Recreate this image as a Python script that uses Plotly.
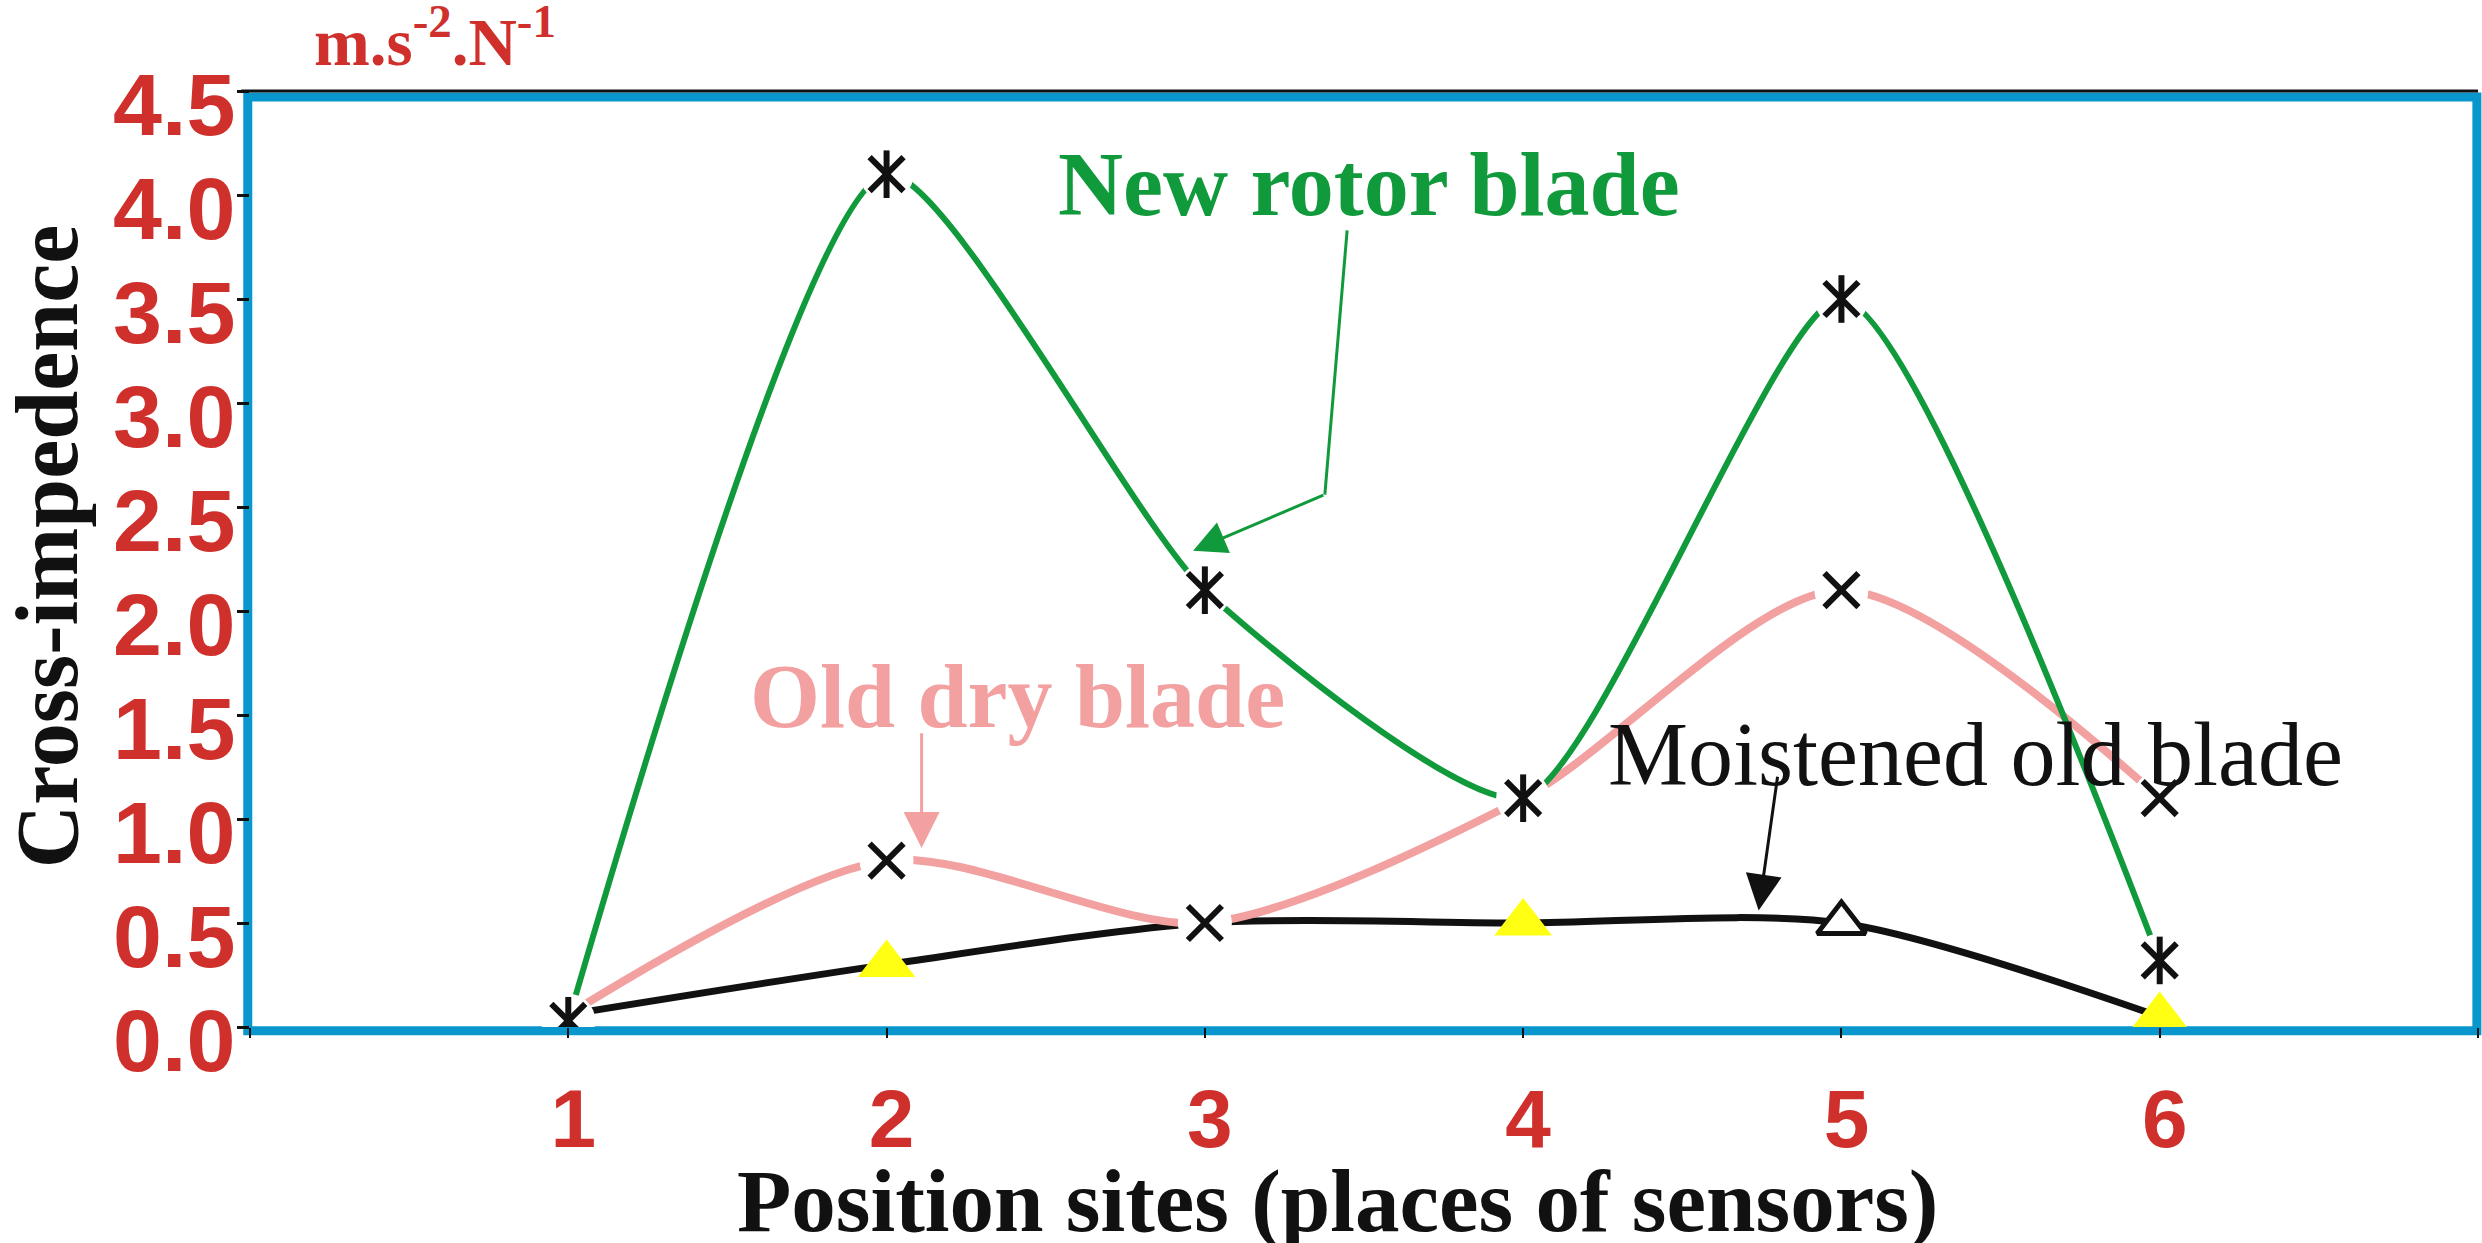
import plotly.graph_objects as go

# ---- data ----
positions = [1, 2, 3, 4, 5, 6]
new_rotor = [0.03, 4.1, 2.1, 1.1, 3.5, 0.32]
old_dry = [0.06, 0.8, 0.5, 1.1, 2.1, 1.1]
moistened = [0.06, 0.3, 0.5, 0.5, 0.5, 0.05]
x_tick_vals = [0, 1, 2, 3, 4, 5, 6, 7]
x_tick_text = ["", "1", "2", "3", "4", "5", "6", ""]

GREEN = "#119a3b"
PINK = "#f2a0a0"
RED = "#d0302c"
BLUE = "#0896cd"
YELLOW = "#ffff14"

fig = go.Figure()

# lines
fig.add_trace(go.Scatter(x=positions, y=moistened, mode="lines",
                         line=dict(color="#111111", width=7, shape="spline", smoothing=0.8)))
fig.add_trace(go.Scatter(x=positions, y=old_dry, mode="lines",
                         line=dict(color=PINK, width=8, shape="spline", smoothing=0.8)))
fig.add_trace(go.Scatter(x=positions, y=new_rotor, mode="lines",
                         line=dict(color=GREEN, width=6, shape="spline", smoothing=0.6)))

# white halos around cross/asterisk markers
pink_idx = [1, 2, 4, 5]
halo_x = positions + [positions[i] for i in pink_idx]
halo_y = new_rotor + [old_dry[i] for i in pink_idx]
fig.add_trace(go.Scatter(x=halo_x, y=halo_y, mode="markers",
                         marker=dict(symbol="circle", size=54, color="white", line=dict(width=0))))

# triangles on moistened old blade
yel_idx = [1, 3, 5]
fig.add_trace(go.Scatter(x=[positions[i] for i in yel_idx], y=[moistened[i] for i in yel_idx],
                         mode="markers",
                         marker=dict(symbol="triangle-up", size=50, color=YELLOW, line=dict(width=0))))
fig.add_trace(go.Scatter(x=[positions[4]], y=[moistened[4]], mode="markers",
                         marker=dict(symbol="triangle-up", size=42, color="white",
                                     line=dict(color="#111111", width=5))))

# asterisks on new rotor blade
for sym in ["x-thin-open", "line-ns-open"]:
    fig.add_trace(go.Scatter(x=positions, y=new_rotor, mode="markers",
                             marker=dict(symbol=sym, size=34, color="#111111",
                                         line=dict(color="#111111", width=6))))
# crosses on old dry blade
fig.add_trace(go.Scatter(x=[positions[i] for i in pink_idx], y=[old_dry[i] for i in pink_idx],
                         mode="markers",
                         marker=dict(symbol="x-thin-open", size=34, color="#111111",
                                     line=dict(color="#111111", width=6))))

serif = "Liberation Serif"
sans = "Liberation Sans"

annotations = [
    dict(x=0.028, y=1.058, xref="paper", yref="paper", xanchor="left", yanchor="middle",
         text="m.s<sup>-2</sup>.N<sup>-1</sup>", showarrow=False,
         font=dict(family=serif, size=67, color=RED, weight="bold")),
    dict(x=-0.0905, y=0.514, xref="paper", yref="paper", xanchor="center", yanchor="middle",
         textangle=-90, text="Cross-impedence", showarrow=False,
         font=dict(family=serif, size=88, color="#111111", weight="bold")),
    dict(x=0.488, y=-0.186, xref="paper", yref="paper", xanchor="center", yanchor="middle",
         text="Position sites (places of sensors)", showarrow=False,
         font=dict(family=serif, size=89, color="#111111", weight="bold")),
    dict(x=3.515, y=4.05, xref="x", yref="y", text="New rotor blade", showarrow=False,
         font=dict(family=serif, size=90, color=GREEN, weight="bold")),
    dict(x=2.41, y=1.587, xref="x", yref="y", text="Old dry blade", showarrow=False,
         font=dict(family=serif, size=90, color=PINK, weight="bold")),
    dict(x=5.42, y=1.31, xref="x", yref="y", text="Moistened old blade", showarrow=False,
         font=dict(family=serif, size=90, color="#111111")),
    # arrows
    dict(x=2.963, y=2.29, ax=3.377, ay=2.56, xref="x", yref="y", axref="x", ayref="y",
         text="", showarrow=True, arrowhead=2, arrowsize=2.2, arrowwidth=3, arrowcolor=GREEN),
    dict(x=2.11, y=0.86, ax=2.11, ay=1.42, xref="x", yref="y", axref="x", ayref="y",
         text="", showarrow=True, arrowhead=2, arrowsize=2.4, arrowwidth=3, arrowcolor=PINK),
    dict(x=4.74, y=0.56, ax=4.80, ay=1.21, xref="x", yref="y", axref="x", ayref="y",
         text="", showarrow=True, arrowhead=2, arrowsize=2.4, arrowwidth=3, arrowcolor="#111111"),
]

shapes = [
    dict(type="rect", xref="paper", yref="paper", x0=-0.001, x1=0.9995, y0=-0.004, y1=0.9936,
         line=dict(color=BLUE, width=9), layer="below"),
    dict(type="line", xref="paper", yref="paper", x0=-0.004, x1=1.0, y0=1.0, y1=1.0,
         line=dict(color="#111111", width=3), layer="below"),
    dict(type="line", xref="x", yref="y", x0=3.447, y0=3.83, x1=3.377, y1=2.56,
         line=dict(color=GREEN, width=3)),
]

fig.update_layout(
    width=2482, height=1243,
    margin=dict(l=250, r=4, t=91, b=216),
    paper_bgcolor="white", plot_bgcolor="white",
    showlegend=False,
    annotations=annotations,
    shapes=shapes,
    xaxis=dict(range=[0, 7], tickvals=x_tick_vals, ticktext=x_tick_text,
               showgrid=False, zeroline=False, showline=False,
               ticks="outside", ticklen=10, tickwidth=2, tickcolor="#111111",
               ticklabelstandoff=11, ticklabelshift=5,
               tickfont=dict(family=sans, size=82, color=RED, weight="bold")),
    yaxis=dict(range=[0, 4.5], dtick=0.5, tick0=0, tickformat=".1f",
               showgrid=False, zeroline=False, showline=False,
               ticks="outside", ticklen=12, tickwidth=3, tickcolor="#111111",
               ticklabelstandoff=-16, ticklabelshift=13,
               tickfont=dict(family=sans, size=88, color=RED, weight="bold")),
)

fig.write_html("out.html")
